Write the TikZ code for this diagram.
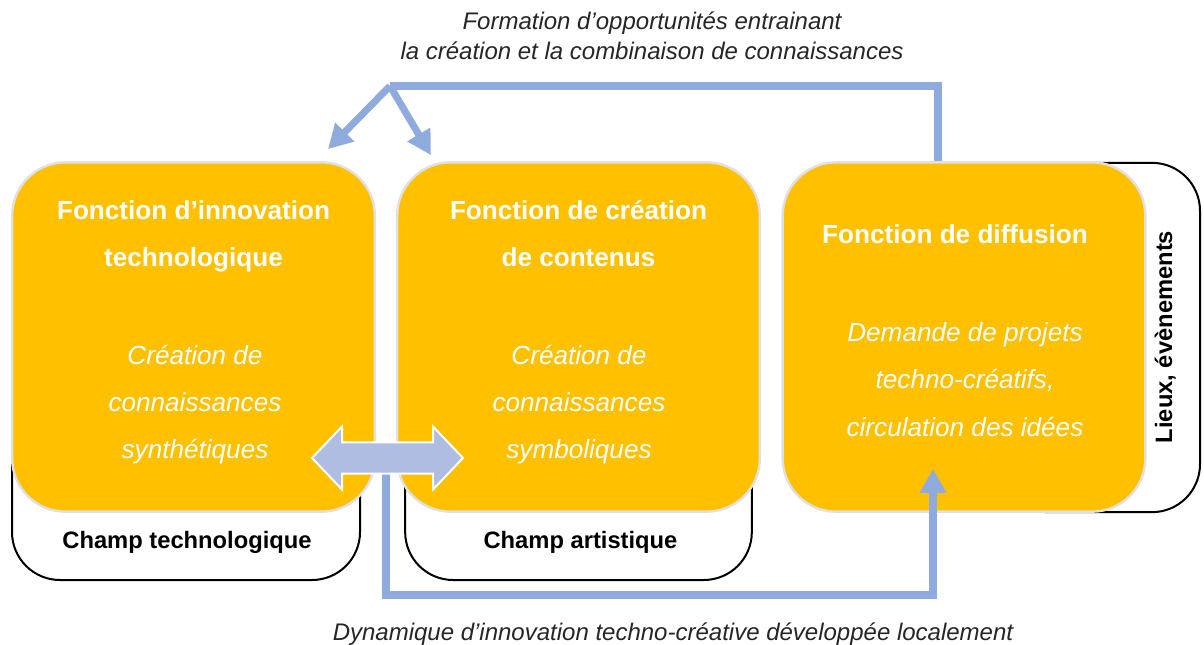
\documentclass[tikz,border=0pt]{standalone}
\usepackage{fontspec}
\setmainfont{Liberation Sans}
\usetikzlibrary{arrows.meta,calc}
\definecolor{orangeF}{HTML}{FFC000}
\definecolor{bleuL}{HTML}{8FAADC}
\definecolor{lavande}{HTML}{B0BDE2}
\begin{document}
\begin{tikzpicture}[
x=0.75pt,y=-0.75pt,
champ/.style={draw=black,line width=1.5pt,fill=white,rounded corners=36pt,inner sep=0pt},
fonction/.style={draw=black!12,line width=1.8pt,fill=orangeF,rounded corners=40pt,inner sep=0pt,minimum width=272pt,minimum height=262pt},
titre/.style={text=white,font=\bfseries\fontsize{19.6}{35.25}\selectfont,align=center,anchor=base},
corps/.style={text=white,font=\itshape\fontsize{19.6}{35.6}\selectfont,align=center,anchor=base},
etiquette/.style={font=\bfseries\fontsize{17.8}{21}\selectfont,anchor=base},
legende/.style={text=black!85,font=\itshape\fontsize{18}{22.5}\selectfont,align=center,anchor=base},
lien/.style={draw=bleuL,line width=5.3pt},
fleche/.style={-{Triangle[length=18pt,width=19pt]}}
]
\useasboundingbox (0,0) rectangle (1204,645);

% champs
\node[champ,minimum width=261pt,minimum height=135pt] (champtech) at (186,490) {};
\node[champ,minimum width=260pt,minimum height=135pt] (champart) at (578.5,490) {};
\node[champ,minimum width=150pt,minimum height=262pt] (lieux) at (1100,337.5) {};

% fonctions
\node[fonction] (techno) at (193.5,337) {};
\node[fonction] (contenus) at (578.5,337) {};
\node[fonction] (diffusion) at (964,337) {};

\node[titre] (titretech) at (193.5,267) {Fonction d’innovation\\technologique};
\node[titre] (titrecont) at (578.5,267) {Fonction de création\\de contenus};
\node[titre] (titrediff) at (955,244) {Fonction de diffusion};

\node[corps] (corpstech) at (195,459) {Création de\\connaissances\\synthétiques};
\node[corps] (corpscont) at (579,459) {Création de\\connaissances\\symboliques};
\node[corps] (corpsdiff) at (965,436) {Demande de projets\\techno-créatifs,\\circulation des idées};

\node[etiquette] (nomtech) at (187,548) {Champ technologique};
\node[etiquette] (nomart) at (580.5,548) {Champ artistique};
\node[etiquette,rotate=90] (nomlieux) at (1172,337) {Lieux, évènements};

\node[legende] (haut) at (652,60) {Formation d’opportunités entrainant\\la création et la combinaison de connaissances};
\node[legende] (bas) at (673,640) {Dynamique d’innovation techno-créative développée localement};

% liens
\coordinate (jonction) at (390,86);
\coordinate (echange) at (386,458);
\coordinate (retour) at (386,595);
\draw[lien] ($(diffusion.north)+(-26,0)$) |- (jonction);
\draw[lien,fleche] (jonction) -- ($(techno.north east)+(-48,-12)$);
\draw[lien,fleche] (jonction) -- ($(contenus.north west)+(35,-6)$);
\draw[lien,fleche] (echange) -- (retour) -| ($(diffusion.south)+(-31,-44)$);

\draw[fill=lavande,draw=white,line width=1.5pt] (echange) ++(-74,0) -- ++(30,-31.5) -- ++(0,16) -- ++(91,0) -- ++(0,-16) -- ++(30,31.5) -- ++(-30,31.5) -- ++(0,-16) -- ++(-91,0) -- ++(0,16) -- cycle;
\end{tikzpicture}
\end{document}
